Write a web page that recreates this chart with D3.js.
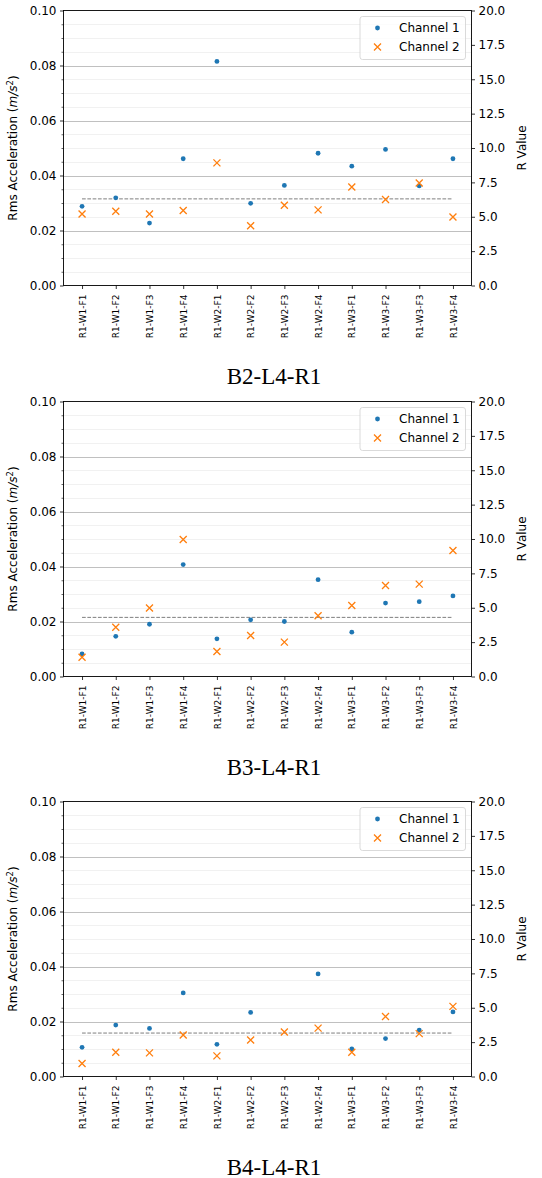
<!DOCTYPE html>
<html>
<head>
<meta charset="utf-8">
<script src="https://cdn.jsdelivr.net/npm/d3@7"></script>
<style>
  body { margin: 0; background: #fff; }
  svg { display: block; }
  text { font-family: "DejaVu Sans", sans-serif; fill: #000; }
</style>
</head>
<body>
<div id="chart"></div>
<script>
// ---------------- DATA ----------------
const categories = ["R1-W1-F1","R1-W1-F2","R1-W1-F3","R1-W1-F4","R1-W2-F1","R1-W2-F2","R1-W2-F3","R1-W2-F4","R1-W3-F1","R1-W3-F2","R1-W3-F3","R1-W3-F4"];
const panelTitles = ["B2-L4-R1", "B3-L4-R1", "B4-L4-R1"];
const seriesNames = ["Channel 1", "Channel 2"];

const ch1_B2 = [0.0288, 0.0319, 0.0227, 0.0461, 0.0815, 0.0299, 0.0364, 0.0481, 0.0434, 0.0495, 0.0362, 0.0461];
const ch2_B2 = [0.0260, 0.0270, 0.0260, 0.0273, 0.0446, 0.0217, 0.0292, 0.0275, 0.0358, 0.0313, 0.0373, 0.0249];
const ref_B2 = 0.0315;

const ch1_B3 = [0.0082, 0.0146, 0.0190, 0.0407, 0.0137, 0.0206, 0.0200, 0.0352, 0.0161, 0.0267, 0.0272, 0.0293];
const ch2_B3 = [0.0070, 0.0179, 0.0249, 0.0498, 0.0091, 0.0149, 0.0125, 0.0221, 0.0258, 0.0331, 0.0336, 0.0458];
const ref_B3 = 0.0215;

const ch1_B4 = [0.0106, 0.0187, 0.0175, 0.0304, 0.0117, 0.0233, null, 0.0373, 0.0100, 0.0138, 0.0169, 0.0235];
const ch2_B4 = [0.0047, 0.0088, 0.0086, 0.0151, 0.0075, 0.0133, 0.0162, 0.0176, 0.0088, 0.0218, 0.0156, 0.0255];
const ref_B4 = 0.0158;

const yTicks = [0.00, 0.02, 0.04, 0.06, 0.08, 0.10];
const yMinorTicks = [0.005,0.01,0.015,0.025,0.03,0.035,0.045,0.05,0.055,0.065,0.07,0.075,0.085,0.09,0.095];
const rTicks = [0.0, 2.5, 5.0, 7.5, 10.0, 12.5, 15.0, 17.5, 20.0];
const yDomain = [0, 0.1];
const rDomain = [0, 20];

// ---------------- LAYOUT ----------------
const W = 542, H = 1178;
const left = 63.5, right = 471.5, plotH = 275;
const panels = [
  { title: panelTitles[0], ch1: ch1_B2, ch2: ch2_B2, ref: ref_B2, top: 10.5 },
  { title: panelTitles[1], ch1: ch1_B3, ch2: ch2_B3, ref: ref_B3, top: 401.5 },
  { title: panelTitles[2], ch1: ch1_B4, ch2: ch2_B4, ref: ref_B4, top: 801.5 }
];
const C1 = "#1f77b4", C2 = "#ff7f0e";

const svg = d3.select("#chart").append("svg").attr("width", W).attr("height", H);

const x = d3.scaleLinear().domain([-0.55, categories.length - 1 + 0.55]).range([left, right]);

function xMark(g, cx, cy, s, color) {
  g.append("path")
    .attr("d", `M${cx - s},${cy - s}L${cx + s},${cy + s}M${cx - s},${cy + s}L${cx + s},${cy - s}`)
    .attr("stroke", color).attr("stroke-width", 1.3).attr("fill", "none");
}

panels.forEach(p => {
  const top = p.top, bottom = top + plotH;
  const y = d3.scaleLinear().domain(yDomain).range([bottom, top]);
  const yR = d3.scaleLinear().domain(rDomain).range([bottom, top]);
  const g = svg.append("g");

  // minor grid
  g.append("g").selectAll("line").data(yMinorTicks).join("line")
    .attr("x1", left).attr("x2", right)
    .attr("y1", d => Math.round(y(d)) + 0.5).attr("y2", d => Math.round(y(d)) + 0.5)
    .attr("stroke", "#ededed").attr("stroke-width", 0.8);
  // major grid
  g.append("g").selectAll("line").data(yTicks.filter(d => d > 0 && d < 0.1)).join("line")
    .attr("x1", left).attr("x2", right)
    .attr("y1", d => Math.round(y(d)) + 0.5).attr("y2", d => Math.round(y(d)) + 0.5)
    .attr("stroke", "#b0b0b0").attr("stroke-width", 0.8);

  // reference dashed line
  g.append("line")
    .attr("x1", x(0)).attr("x2", x(categories.length - 1))
    .attr("y1", y(p.ref)).attr("y2", y(p.ref))
    .attr("stroke", "#7f7f7f").attr("stroke-width", 1)
    .attr("stroke-dasharray", "3.7,1.6");

  // Channel 1 dots
  g.append("g").selectAll("circle")
    .data(p.ch1.map((v, i) => ({ v, i })).filter(d => d.v != null)).join("circle")
    .attr("cx", d => x(d.i)).attr("cy", d => y(d.v)).attr("r", 2.4)
    .attr("fill", C1);
  // Channel 2 crosses
  const g2 = g.append("g");
  p.ch2.forEach((d, i) => { if (d != null) xMark(g2, x(i), y(d), 3.5, C2); });

  // left axis
  const axL = g.append("g").attr("transform", `translate(${left},0)`)
    .call(d3.axisLeft(y).tickValues(yTicks).tickFormat(d3.format(".2f")).tickSize(3.5).tickPadding(3.5).tickSizeOuter(0));
  axL.select(".domain").remove();
  axL.selectAll("text").style("font-size", "12px").style("font-family", "DejaVu Sans");
  axL.selectAll("line").attr("stroke-width", 0.8);
  const axLm = g.append("g").attr("transform", `translate(${left},0)`)
    .call(d3.axisLeft(y).tickValues(yMinorTicks).tickFormat("").tickSize(2).tickSizeOuter(0));
  axLm.select(".domain").remove();
  axLm.selectAll("line").attr("stroke-width", 0.6);

  // right axis
  const axR = g.append("g").attr("transform", `translate(${right},0)`)
    .call(d3.axisRight(yR).tickValues(rTicks).tickFormat(d3.format(".1f")).tickSize(3.5).tickPadding(3.5).tickSizeOuter(0));
  axR.select(".domain").remove();
  axR.selectAll("text").style("font-size", "12px").style("font-family", "DejaVu Sans");
  axR.selectAll("line").attr("stroke-width", 0.8);

  // bottom axis
  const axB = g.append("g").attr("transform", `translate(0,${bottom})`)
    .call(d3.axisBottom(x).tickValues(d3.range(categories.length)).tickFormat(i => categories[i]).tickSize(3.5).tickSizeOuter(0));
  axB.select(".domain").remove();
  axB.selectAll("line").attr("stroke-width", 0.8);
  axB.selectAll("text")
    .style("font-size", "9px").style("font-family", "DejaVu Sans")
    .attr("transform", "rotate(-90)")
    .attr("text-anchor", "end")
    .attr("x", -9).attr("y", 0).attr("dy", "0.35em");

  // frame
  g.append("rect").attr("x", left).attr("y", top).attr("width", right - left).attr("height", plotH)
    .attr("fill", "none").attr("stroke", "#000").attr("stroke-width", 0.9);

  // y label left
  const yl = g.append("text")
    .attr("transform", `translate(17,${(top + bottom) / 2}) rotate(-90)`)
    .attr("text-anchor", "middle").style("font-size", "12px");
  yl.append("tspan").text("Rms Acceleration (");
  yl.append("tspan").text("m/s").style("font-style", "italic");
  yl.append("tspan").text("2").style("font-size", "8.5px").attr("dy", "-0.45em");
  yl.append("tspan").text(")").attr("dy", "0.38em");

  // right label
  g.append("text")
    .attr("transform", `translate(526,${(top + bottom) / 2}) rotate(-90)`)
    .attr("text-anchor", "middle").style("font-size", "12px").text("R Value");

  // legend
  const lg = g.append("g").attr("transform", `translate(360,${top + 6})`);
  lg.append("rect").attr("x", 0).attr("y", 0).attr("width", 105.5).attr("height", 43)
    .attr("rx", 2.5).attr("fill", "#fff").attr("fill-opacity", 0.8)
    .attr("stroke", "#d0d0d0").attr("stroke-width", 0.8);
  lg.append("circle").attr("cx", 17.5).attr("cy", 11.5).attr("r", 2.4).attr("fill", C1);
  xMark(lg, 17.5, 30.5, 3.5, C2);
  lg.append("text").attr("x", 39).attr("y", 11.5).attr("dy", "0.35em").style("font-size", "12px").text(seriesNames[0]);
  lg.append("text").attr("x", 39).attr("y", 30.5).attr("dy", "0.35em").style("font-size", "12px").text(seriesNames[1]);

  // title
  g.append("text")
    .attr("x", 274).attr("y", top + 373)
    .attr("text-anchor", "middle")
    .style("font-family", "'Liberation Serif', 'Times New Roman', serif")
    .style("font-size", "23px")
    .text(p.title);
});
</script>
</body>
</html>
